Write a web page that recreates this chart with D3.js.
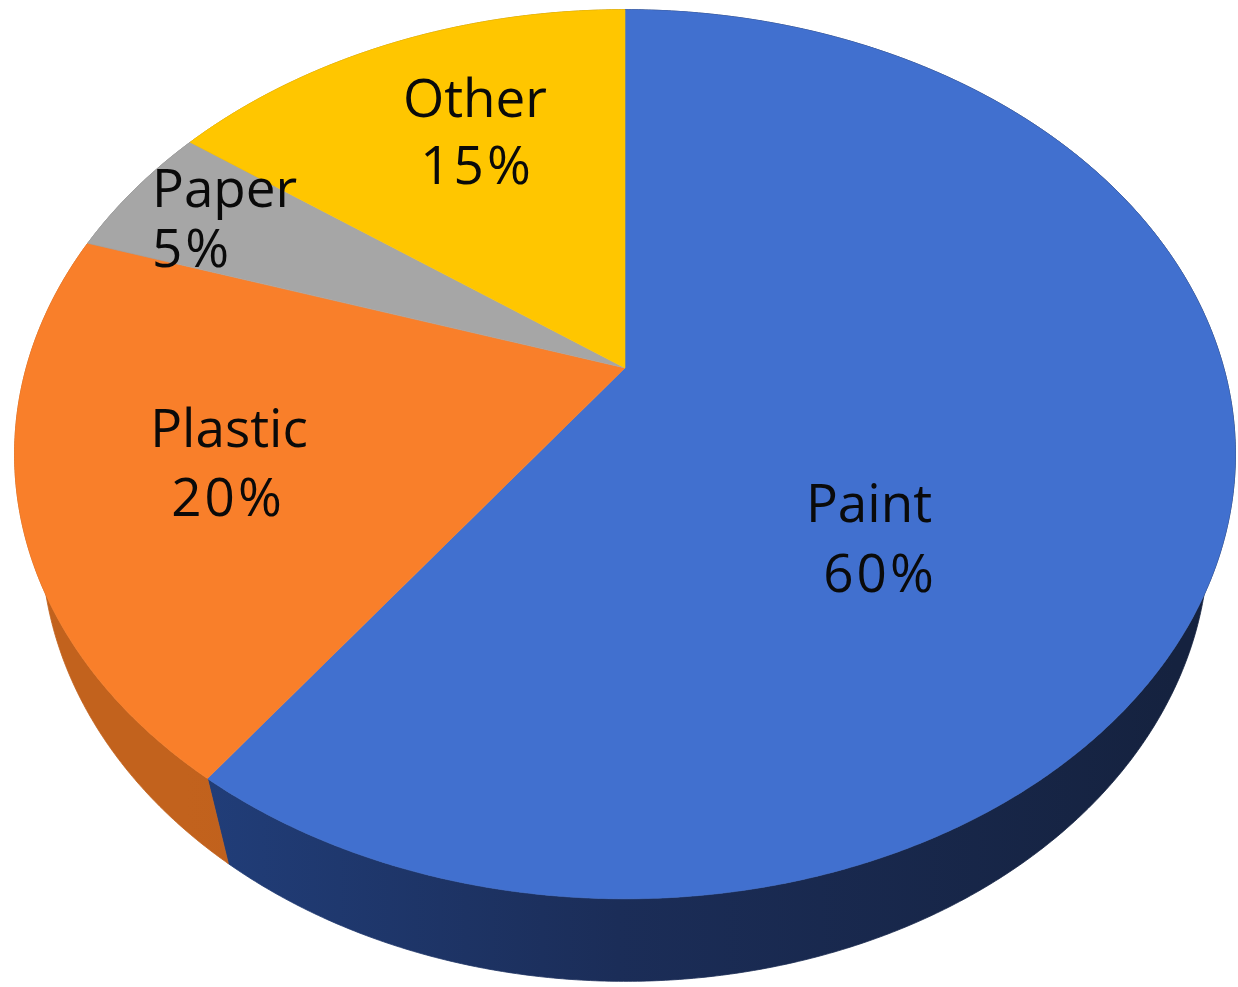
<!DOCTYPE html>
<html>
<head>
<meta charset="utf-8">
<script src="https://cdn.jsdelivr.net/npm/d3@7"></script>
<style>
  html, body { margin: 0; padding: 0; background: #ffffff; }
  svg { display: block; }
  text { font-family: "Open Sans", "Noto Sans", sans-serif; fill: #0a0a0a; }
</style>
</head>
<body>
<script>
// ---- data ----
const categories = ["Paint", "Plastic", "Paper", "Other"];
const values = [60, 20, 5, 15];
const percentLabels = ["60%", "20%", "5%", "15%"];

// ---- styles / layout (not data) ----
const topColors = ["#4170CF", "#F97F2A", "#A6A6A6", "#FFC600"];
const sideColors = [["#213e7a", "#1b2d58", "#15223f"], ["#c2621d", "#b85a19", "#a9521a"],
                    ["#7a7a7a", "#6a6a6a", "#5a5a5a"], ["#c09000", "#a88000", "#907000"]];
// label layout: [x line1, baseline line1, x line2, baseline line2, anchor]
const labelLayout = [
  [869, 522, 880, 592, "middle"],
  [229, 447, 228, 516, "middle"],
  [152, 207, 152, 267, "start"],
  [475, 117, 477, 184, "middle"]
];

const W = 1238, H = 987;
const cx = 625, cy = 368;
const phi = 45.6 * Math.PI / 180;
const sinP = Math.sin(phi), cosP = Math.cos(phi);
const dist = 3.607, F = 2160, thick = 0.2236;

function project(theta, r, Y) {
  const X = r * Math.sin(theta), Z = -r * Math.cos(theta);
  const zc = dist - Y * sinP - Z * cosP;
  const yc = Y * cosP - Z * sinP;
  return [cx + F * X / zc, cy - F * yc / zc];
}
function arcPoints(a0, a1, Y) {
  const n = Math.max(2, Math.ceil((a1 - a0) * 150));
  const pts = [];
  for (let i = 0; i <= n; i++) pts.push(project(a0 + (a1 - a0) * i / n, 1, Y));
  return pts;
}

const svg = d3.select("body").append("svg").attr("width", W).attr("height", H);
const defs = svg.append("defs");

const arcs = d3.pie().sort(null).value(d => d)(values);
const line = d3.line().curve(d3.curveLinear);

// gradients for sides
sideColors.forEach((c, i) => {
  const g = defs.append("linearGradient").attr("id", "side" + i)
    .attr("gradientUnits", "userSpaceOnUse")
    .attr("x1", 0).attr("y1", 0).attr("x2", W).attr("y2", 0);
  g.append("stop").attr("offset", "0.15").attr("stop-color", c[0]);
  g.append("stop").attr("offset", "0.5").attr("stop-color", c[1]);
  g.append("stop").attr("offset", "0.95").attr("stop-color", c[2]);
});

// side walls
const sides = svg.append("g");
arcs.forEach((a, i) => {
  const top = arcPoints(a.startAngle, a.endAngle, 0);
  const bot = arcPoints(a.startAngle, a.endAngle, -thick).reverse();
  sides.append("path")
    .attr("d", line(top.concat(bot)) + "Z")
    .attr("fill", "url(#side" + i + ")")
    .attr("stroke", "url(#side" + i + ")")
    .attr("stroke-width", 0.8);
});

// top faces
const tops = svg.append("g");
arcs.forEach((a, i) => {
  const pts = [project(0, 0, 0)].concat(arcPoints(a.startAngle, a.endAngle, 0));
  tops.append("path")
    .attr("d", line(pts) + "Z")
    .attr("fill", topColors[i])
    .attr("stroke", topColors[i])
    .attr("stroke-width", 0.6)
    .attr("stroke-linejoin", "round");
});

// labels
const labels = svg.append("g");
categories.forEach((c, i) => {
  const L = labelLayout[i];
  labels.append("text").attr("x", L[0]).attr("y", L[1])
    .attr("text-anchor", L[4]).attr("font-size", 53).text(c);
  labels.append("text").attr("x", L[2]).attr("y", L[3])
    .attr("text-anchor", L[4]).attr("font-size", 53)
    .attr("letter-spacing", 3).text(percentLabels[i]);
});
</script>
</body>
</html>
